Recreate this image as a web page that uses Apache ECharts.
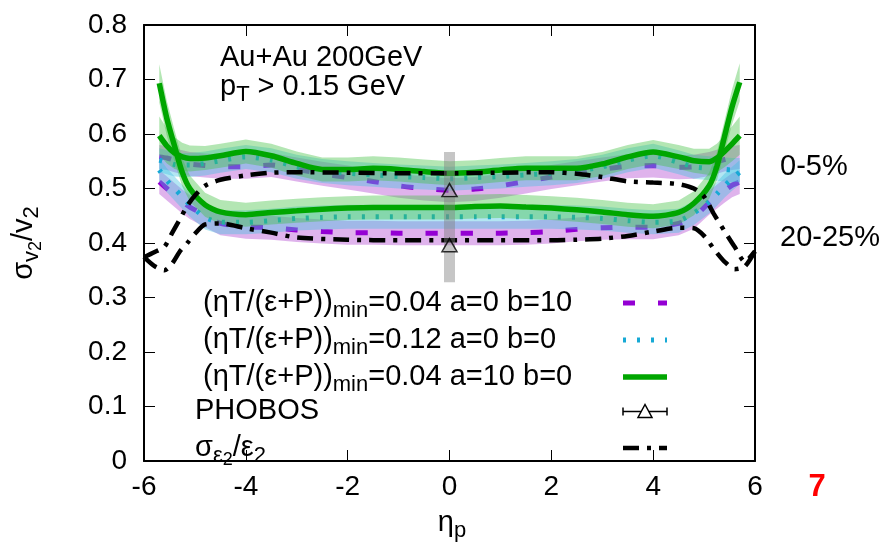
<!DOCTYPE html>
<html>
<head>
<meta charset="utf-8">
<script src="https://cdn.jsdelivr.net/npm/echarts@6/dist/echarts.min.js"></script>
<style>
  html, body { margin: 0; padding: 0; background: #fff; }
  #chart { width: 883px; height: 547px; }
</style>
</head>
<body>
<div id="chart"></div>
<script>
const FONT = "'Liberation Sans', Arial, Helvetica, sans-serif";

// ---- data -------------------------------------------------------------
// pseudorapidity grid of the hydro curves
const etaModel = [-5.7, -5.55, -5.4, -5.25, -5.1, -4.8, -4.5, -4, -3.5, -3, -2.5, -2, -1.5, -1, -0.5,
  0, 0.5, 1, 1.5, 2, 2.5, 3, 3.5, 4, 4.5, 4.8, 5.1, 5.25, 5.4, 5.55, 5.7];

// (eta T/(e+P))_min = 0.04, a = 0, b = 10
const purple0to5 = [0.558, 0.556, 0.552, 0.548, 0.545, 0.542, 0.540, 0.540, 0.543, 0.535, 0.527, 0.520, 0.513, 0.505, 0.500,
  0.497, 0.499, 0.505, 0.513, 0.521, 0.528, 0.535, 0.541, 0.542, 0.539, 0.540, 0.545, 0.549, 0.553, 0.556, 0.558];
const purple20to25 = [0.512, 0.500, 0.488, 0.476, 0.466, 0.451, 0.436, 0.430, 0.428, 0.424, 0.421, 0.419, 0.419, 0.418, 0.418,
  0.418, 0.418, 0.418, 0.419, 0.421, 0.425, 0.428, 0.429, 0.429, 0.436, 0.448, 0.474, 0.485, 0.496, 0.506, 0.512];
const purpleErr = [0.022, 0.022, 0.022, 0.022, 0.022, 0.022, 0.022, 0.022, 0.022, 0.022, 0.022, 0.022, 0.022, 0.022, 0.022,
  0.022, 0.022, 0.022, 0.022, 0.022, 0.022, 0.022, 0.022, 0.022, 0.022, 0.022, 0.022, 0.022, 0.022, 0.022, 0.022];

// (eta T/(e+P))_min = 0.12, a = 0, b = 0
const cyan0to5 = [0.552, 0.548, 0.544, 0.543, 0.543, 0.546, 0.551, 0.558, 0.552, 0.540, 0.532, 0.528, 0.525, 0.522, 0.520,
  0.518, 0.520, 0.522, 0.525, 0.528, 0.532, 0.540, 0.552, 0.560, 0.548, 0.540, 0.537, 0.536, 0.535, 0.534, 0.534];
const cyan20to25 = [0.534, 0.515, 0.500, 0.485, 0.470, 0.447, 0.438, 0.438, 0.441, 0.445, 0.447, 0.448, 0.448, 0.448, 0.448,
  0.448, 0.448, 0.448, 0.448, 0.448, 0.447, 0.445, 0.441, 0.438, 0.441, 0.455, 0.476, 0.490, 0.505, 0.518, 0.530];
const cyanErr = [0.022, 0.022, 0.022, 0.022, 0.022, 0.022, 0.022, 0.022, 0.022, 0.022, 0.022, 0.022, 0.022, 0.022, 0.022,
  0.022, 0.022, 0.022, 0.022, 0.022, 0.022, 0.022, 0.022, 0.022, 0.022, 0.022, 0.022, 0.022, 0.022, 0.022, 0.022];

// (eta T/(e+P))_min = 0.04, a = 10, b = 0
const green0to5 = [0.597, 0.578, 0.565, 0.558, 0.555, 0.556, 0.560, 0.568, 0.560, 0.546, 0.535, 0.535, 0.537, 0.535, 0.531,
  0.528, 0.530, 0.534, 0.537, 0.537, 0.537, 0.545, 0.558, 0.567, 0.558, 0.551, 0.549, 0.556, 0.568, 0.582, 0.597];
const green20to25 = [0.693, 0.628, 0.578, 0.530, 0.500, 0.470, 0.457, 0.452, 0.456, 0.459, 0.462, 0.464, 0.465, 0.465, 0.465,
  0.465, 0.467, 0.468, 0.466, 0.464, 0.461, 0.457, 0.452, 0.449, 0.456, 0.473, 0.505, 0.540, 0.595, 0.650, 0.695];
const greenErr = [0.035, 0.032, 0.029, 0.026, 0.024, 0.022, 0.022, 0.022, 0.022, 0.022, 0.022, 0.022, 0.022, 0.022, 0.022,
  0.022, 0.022, 0.022, 0.022, 0.022, 0.022, 0.022, 0.022, 0.022, 0.022, 0.022, 0.024, 0.026, 0.029, 0.032, 0.035];

// initial-state eccentricity fluctuations sigma_e2 / e2
const etaEps = [-6, -5.8, -5.6, -5.45, -5.3, -5.15, -5, -4.8, -4.5, -4, -3.5, -3, -2, -1, 0,
  1, 2, 2.5, 3, 3.5, 4, 4.5, 4.8, 5, 5.2, 5.4, 5.6, 5.8, 6];
const eps0to5 = [0.374, 0.383, 0.393, 0.418, 0.443, 0.468, 0.487, 0.505, 0.516, 0.524, 0.529, 0.530, 0.529, 0.528, 0.528,
  0.529, 0.530, 0.527, 0.521, 0.513, 0.511, 0.508, 0.500, 0.485, 0.452, 0.422, 0.393, 0.366, 0.385];
const eps20to25 = [0.374, 0.358, 0.350, 0.362, 0.384, 0.400, 0.417, 0.434, 0.436, 0.427, 0.419, 0.410, 0.406, 0.405, 0.405,
  0.405, 0.405, 0.406, 0.408, 0.413, 0.421, 0.428, 0.427, 0.413, 0.388, 0.366, 0.352, 0.357, 0.385];

// PHOBOS measurement at mid-rapidity (0-5% and 20-25%) and its systematic range
const phobosEta = [0, 0];
const phobosVal = [0.497, 0.396];
const phobosSys = [0.328, 0.567];

// axis ticks
const xTicks = [-6, -4, -2, 0, 2, 4, 6];
const yTicks = [0, 0.1, 0.2, 0.3, 0.4, 0.5, 0.6, 0.7, 0.8];

// ---- series names and legend text --------------------------------------
const NAME_P = '(ηT/(ε+P))min=0.04 a=0 b=10';
const NAME_C = '(ηT/(ε+P))min=0.12 a=0 b=0';
const NAME_G = '(ηT/(ε+P))min=0.04 a=10 b=0';
const NAME_PH = 'PHOBOS';
const NAME_E = 'σε2/ε2';
const legendText = {};
legendText[NAME_P] = '{n| (ηT/(ε+P))}{s|min}{n|=0.04 a=0 b=10}';
legendText[NAME_C] = '{n| (ηT/(ε+P))}{s|min}{n|=0.12 a=0 b=0}';
legendText[NAME_G] = '{n| (ηT/(ε+P))}{s|min}{n|=0.04 a=10 b=0}';
legendText[NAME_PH] = '{n|PHOBOS}';
legendText[NAME_E] = '{n|σ}{s|ε}{ss|2}{n|/ε}{s|2}';

// rich styles for component text (legend)
const richModel = {
  n: { fontSize: 29, fontFamily: FONT, color: '#000', lineHeight: 31, align: 'left' },
  s: { fontSize: 22, fontFamily: FONT, color: '#000', lineHeight: 31, align: 'left', padding: [15, 0, 0, 0] },
  ss: { fontSize: 18, fontFamily: FONT, color: '#000', lineHeight: 31, align: 'left', padding: [25, 0, 0, 0] }
};
// rich styles for free text elements
const richEl = {
  n: { font: '29px ' + FONT, fill: '#000', lineHeight: 31 },
  s: { font: '22px ' + FONT, fill: '#000', lineHeight: 31, padding: [15, 0, 0, 0] },
  ss: { font: '18px ' + FONT, fill: '#000', lineHeight: 31, padding: [25, 0, 0, 0] }
};

// ---- series builders ----------------------------------------------------
let zOrder = 2;
function band(mid, err, color) {
  return {
    type: 'custom',
    coordinateSystem: 'cartesian2d',
    silent: true,
    clip: true,
    z: zOrder++,
    data: etaModel.map((e, i) => [e, mid[i] - err[i], mid[i] + err[i]]),
    encode: { x: 0, y: [1, 2] },
    renderItem(params, api) {
      if (params.dataIndexInside !== 0) return null;
      const n = params.dataInsideLength;
      const upper = [], lower = [];
      for (let i = 0; i < n; i++) {
        const x = api.value(0, i);
        upper.push(api.coord([x, api.value(2, i)]));
        lower.push(api.coord([x, api.value(1, i)]));
      }
      return {
        type: 'polygon',
        shape: { points: upper.concat(lower.reverse()) },
        style: { fill: color, stroke: null }
      };
    }
  };
}
function curve(name, eta, vals, color, width, dash) {
  return {
    type: 'line',
    name: name,
    z: zOrder++,
    silent: true,
    clip: true,
    symbol: 'none',
    showSymbol: false,
    smooth: 0.25,
    data: eta.map((e, i) => [e, vals[i]]),
    itemStyle: { color: color },
    lineStyle: { color: color, width: width, type: dash, cap: 'butt' }
  };
}

const PURPLE = '#9400d3', CYAN = '#17a9d5', GREEN = '#00a600';
const DASH_P = [12, 23], DOT_C = [3, 11], DASHDOT_E = [16, 8, 4, 8];
const series = [
  band(purple0to5, purpleErr, 'rgba(176,64,208,0.4)'),
  band(purple20to25, purpleErr, 'rgba(176,64,208,0.4)'),
  curve(NAME_P, etaModel, purple0to5, PURPLE, 5, DASH_P),
  curve(NAME_P, etaModel, purple20to25, PURPLE, 5, DASH_P),
  band(cyan0to5, cyanErr, 'rgba(64,192,224,0.4)'),
  band(cyan20to25, cyanErr, 'rgba(64,192,224,0.4)'),
  curve(NAME_C, etaModel, cyan0to5, CYAN, 5, DOT_C),
  curve(NAME_C, etaModel, cyan20to25, CYAN, 5, DOT_C),
  band(green0to5, greenErr, 'rgba(64,192,64,0.4)'),
  band(green20to25, greenErr, 'rgba(64,192,64,0.4)'),
  curve(NAME_G, etaModel, green0to5, GREEN, 5.5, 'solid'),
  curve(NAME_G, etaModel, green20to25, GREEN, 5.5, 'solid'),
  curve(NAME_E, etaEps, eps0to5, '#000', 4.5, DASHDOT_E),
  curve(NAME_E, etaEps, eps20to25, '#000', 4.5, DASHDOT_E),
  {
    // systematic range of the PHOBOS points
    type: 'custom',
    coordinateSystem: 'cartesian2d',
    silent: true,
    z: zOrder++,
    data: [[phobosEta[0], phobosSys[0], phobosSys[1]]],
    encode: { x: 0, y: [1, 2] },
    renderItem(params, api) {
      const top = api.coord([api.value(0), api.value(2)]);
      const bot = api.coord([api.value(0), api.value(1)]);
      return {
        type: 'rect',
        shape: { x: top[0] - 5.5, y: top[1], width: 11, height: bot[1] - top[1] },
        style: { fill: 'rgba(128,128,128,0.45)' }
      };
    }
  },
  {
    type: 'scatter',
    name: NAME_PH,
    z: zOrder++,
    silent: true,
    symbol: 'triangle',
    symbolSize: [15, 13],
    data: phobosEta.map((e, i) => [e, phobosVal[i]]),
    itemStyle: { color: 'rgba(0,0,0,0)', borderColor: '#000', borderWidth: 1.5 }
  }
];

// ---- axes -----------------------------------------------------------------
const axisLine = { show: true, onZero: false, lineStyle: { color: '#000', width: 2 } };
const axisTick = { show: true, inside: true, length: 11, lineStyle: { color: '#000', width: 1 } };
function xAxis(position, labels) {
  return {
    type: 'value', position: position, min: xTicks[0], max: xTicks[xTicks.length - 1],
    interval: xTicks[1] - xTicks[0],
    axisLine: axisLine, axisTick: axisTick, splitLine: { show: false },
    axisLabel: { show: labels, fontSize: 28, fontFamily: FONT, color: '#000', margin: 12 }
  };
}
function yAxis(position, labels) {
  return {
    type: 'value', position: position, min: yTicks[0], max: yTicks[yTicks.length - 1],
    interval: 0.1,
    axisLine: axisLine, axisTick: axisTick, splitLine: { show: false },
    axisLabel: {
      show: labels, fontSize: 28, fontFamily: FONT, color: '#000', margin: 17,
      formatter: v => (v === 0 ? '0' : v.toFixed(1))
    }
  };
}

const chart = echarts.init(document.getElementById('chart'), null, { renderer: 'canvas' });
chart.setOption({
  animation: false,
  backgroundColor: '#fff',
  grid: { left: 144, right: 128, top: 25, bottom: 86, containLabel: false },
  xAxis: [xAxis('bottom', true), xAxis('top', false)],
  yAxis: [yAxis('left', true), yAxis('right', false)],
  legend: {
    orient: 'vertical',
    left: 195,
    top: 284.5,
    padding: 0,
    align: 'right',
    itemWidth: 44,
    itemHeight: 14,
    itemGap: 0,
    selectedMode: false,
    textStyle: { fontSize: 29, fontFamily: FONT, color: '#000', lineHeight: 31, width: 423, rich: richModel },
    formatter: name => legendText[name],
    data: [
      { name: NAME_P, itemStyle: { opacity: 0 }, lineStyle: { color: PURPLE, width: 5, type: DASH_P } },
      { name: NAME_C, itemStyle: { opacity: 0 }, lineStyle: { color: CYAN, width: 5, type: DOT_C } },
      { name: NAME_G, itemStyle: { opacity: 0 }, lineStyle: { color: GREEN, width: 5.5, type: 'solid' } },
      {
        name: NAME_PH,
        icon: 'path://M0,7L18.2,7M25.8,7L44,7M0,3L0,11M44,3L44,11M22,0L15,13L29,13Z',
        itemStyle: { color: '#fff', borderColor: '#000', borderWidth: 1.5, opacity: 1 }
      },
      { name: NAME_E, itemStyle: { opacity: 0 }, lineStyle: { color: '#000', width: 4.5, type: DASHDOT_E } }
    ]
  },
  graphic: [
    { type: 'text', x: 220, y: 58, style: { text: 'Au+Au 200GeV', font: '29px ' + FONT, fill: '#000', verticalAlign: 'middle' } },
    { type: 'text', x: 220, y: 87, style: { text: '{n|p}{s|T}{n| > 0.15 GeV}', rich: richEl, font: '29px ' + FONT, fill: '#000', verticalAlign: 'middle' } },
    { type: 'text', x: 780, y: 167, style: { text: '0-5%', font: '29px ' + FONT, fill: '#000', verticalAlign: 'middle' } },
    { type: 'text', x: 780, y: 238, style: { text: '20-25%', font: '29px ' + FONT, fill: '#000', verticalAlign: 'middle' } },
    { type: 'text', x: 24, y: 243, rotation: Math.PI / 2,
      style: { text: '{n|σ}{s|v}{ss|2}{n|/v}{s|2}', rich: richEl, font: '29px ' + FONT, fill: '#000', align: 'center', verticalAlign: 'middle' } },
    { type: 'text', x: 452, y: 523,
      style: { text: '{n|η}{s|p}', rich: richEl, font: '29px ' + FONT, fill: '#000', align: 'center', verticalAlign: 'middle' } },
    { type: 'text', x: 817, y: 487,
      style: { text: '7', font: 'bold 31px ' + FONT, fill: '#ff0000', align: 'center', verticalAlign: 'middle' } }
  ],
  series: series
});
</script>
</body>
</html>
